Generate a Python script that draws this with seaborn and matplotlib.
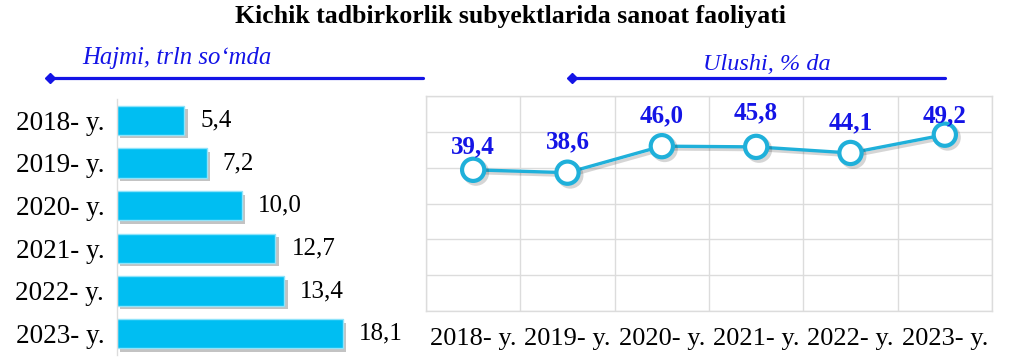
import matplotlib
matplotlib.use("Agg")
import matplotlib.pyplot as plt
import matplotlib.patheffects as pe
from matplotlib.lines import Line2D
from matplotlib.ticker import MultipleLocator, FixedLocator
import seaborn as sns
import pandas as pd

# ---- data ----
title = "Kichik tadbirkorlik subyektlarida sanoat faoliyati"
years = ["2018- y.", "2019- y.", "2020- y.", "2021- y.", "2022- y.", "2023- y."]
volume = [5.4, 7.2, 10.0, 12.7, 13.4, 18.1]          # trln so'm
share = [39.4, 38.6, 46.0, 45.8, 44.1, 49.2]          # %
left_header = "Hajmi, trln so\u2018mda"
right_header = "Ulushi, % da"

sns.set_theme(style="white")
plt.rcParams["font.family"] = ["Liberation Serif", "DejaVu Serif"]

W, H = 1021, 363
fig = plt.figure(figsize=(W / 100, H / 100), dpi=100)

def ax_rect(x0, y0, x1, y1):
    return [x0 / W, 1 - y1 / H, (x1 - x0) / W, (y1 - y0) / H]

def fx(x):
    return x / W

def fy(y):
    return 1 - y / H

BAR_C = "#00BEF2"
LINE_C = "#1FB0DA"
BLUE = "#1414E6"
GRID_C = "#DCDCDC"

# ---- title ----
fig.text(fx(510), fy(17), title, ha="center", va="center",
         fontsize=18.5, fontweight="bold", color="black")

# ---- headers with arrow lines ----
fig.text(fx(177), fy(58), left_header, ha="center", va="center",
         fontsize=17.8, fontstyle="italic", color=BLUE)
fig.text(fx(767), fy(65), right_header, ha="center", va="center",
         fontsize=17.5, fontstyle="italic", color=BLUE)
for x0, x1 in [(50, 423), (572, 945)]:
    fig.add_artist(Line2D([fx(x0), fx(x1)], [fy(78), fy(78)],
                          transform=fig.transFigure, color=BLUE, lw=2.3))
    fig.add_artist(Line2D([fx(x0)], [fy(78)], transform=fig.transFigure,
                          marker="D", markersize=5.5, color=BLUE, lw=0))

# ---- left: horizontal bars ----
axL = fig.add_axes(ax_rect(116.7, 99, 420, 355))
dfL = pd.DataFrame({"year": years, "volume": volume})
sns.barplot(data=dfL, x="volume", y="year", orient="h", ax=axL,
            color=BAR_C, width=0.68, saturation=1)
for p in axL.patches:
    p.set_edgecolor("#8EE3FA")
    p.set_linewidth(1.0)
    p.set_path_effects([pe.SimplePatchShadow(offset=(2.5, -2.5), alpha=0.35,
                                             shadow_rgbFace="#555555"),
                        pe.Normal()])
axL.bar_label(axL.containers[0],
              labels=[f"{v:.1f}".replace(".", ",") for v in volume],
              padding=11.5, fontsize=18, color="black")
axL.set_xlim(0, 303.3 / 12.5)
axL.set_ylim(5.5, -0.5)
axL.set_xlabel("")
axL.set_ylabel("")
axL.set_xticks([])
axL.tick_params(axis="y", length=0, pad=9, labelsize=19.5, labelcolor="black")
for s in ["top", "right", "bottom"]:
    axL.spines[s].set_visible(False)
axL.spines["left"].set_color(GRID_C)
axL.spines["left"].set_linewidth(1.0)
axL.patch.set_alpha(0)

# ---- right: line chart ----
axR = fig.add_axes(ax_rect(426, 96, 992, 311))
dfR = pd.DataFrame({"x": range(len(years)), "share": share})
sns.lineplot(data=dfR, x="x", y="share", ax=axR, color=LINE_C, lw=2.4,
             marker="o", markersize=16, markerfacecolor="white",
             markeredgecolor=LINE_C, markeredgewidth=3,
             path_effects=[pe.SimpleLineShadow(offset=(2, -2), alpha=0.18),
                           pe.Normal()])
axR.set_xlim(-0.5, 5.5)
axR.set_ylim(0, 60)
axR.yaxis.set_major_locator(MultipleLocator(10))
axR.xaxis.set_major_locator(FixedLocator(range(len(years))))
axR.set_xticklabels(years)
axR.xaxis.set_minor_locator(FixedLocator([i + 0.5 for i in range(-1, 6)]))
axR.grid(axis="y", which="major", color=GRID_C, lw=1.0)
axR.grid(axis="x", which="minor", color=GRID_C, lw=1.0)
axR.set_axisbelow(True)
axR.set_yticklabels([])
axR.tick_params(axis="both", which="both", length=0)
axR.tick_params(axis="x", which="major", pad=12, labelsize=19,
                labelcolor="black")
axR.set_xlabel("")
axR.set_ylabel("")
for s in axR.spines.values():
    s.set_color(GRID_C)
    s.set_linewidth(1.0)

label_offsets = [16.5, 22, 22, 24.5, 22, 13.5]  # points above marker
for i, (v, off) in enumerate(zip(share, label_offsets)):
    axR.annotate(f"{v:.1f}".replace(".", ","), (i, v),
                 xytext=(0, off), textcoords="offset points",
                 ha="center", va="center", fontsize=18,
                 fontweight="bold", color=BLUE)

fig.savefig("out.png", dpi=100)
